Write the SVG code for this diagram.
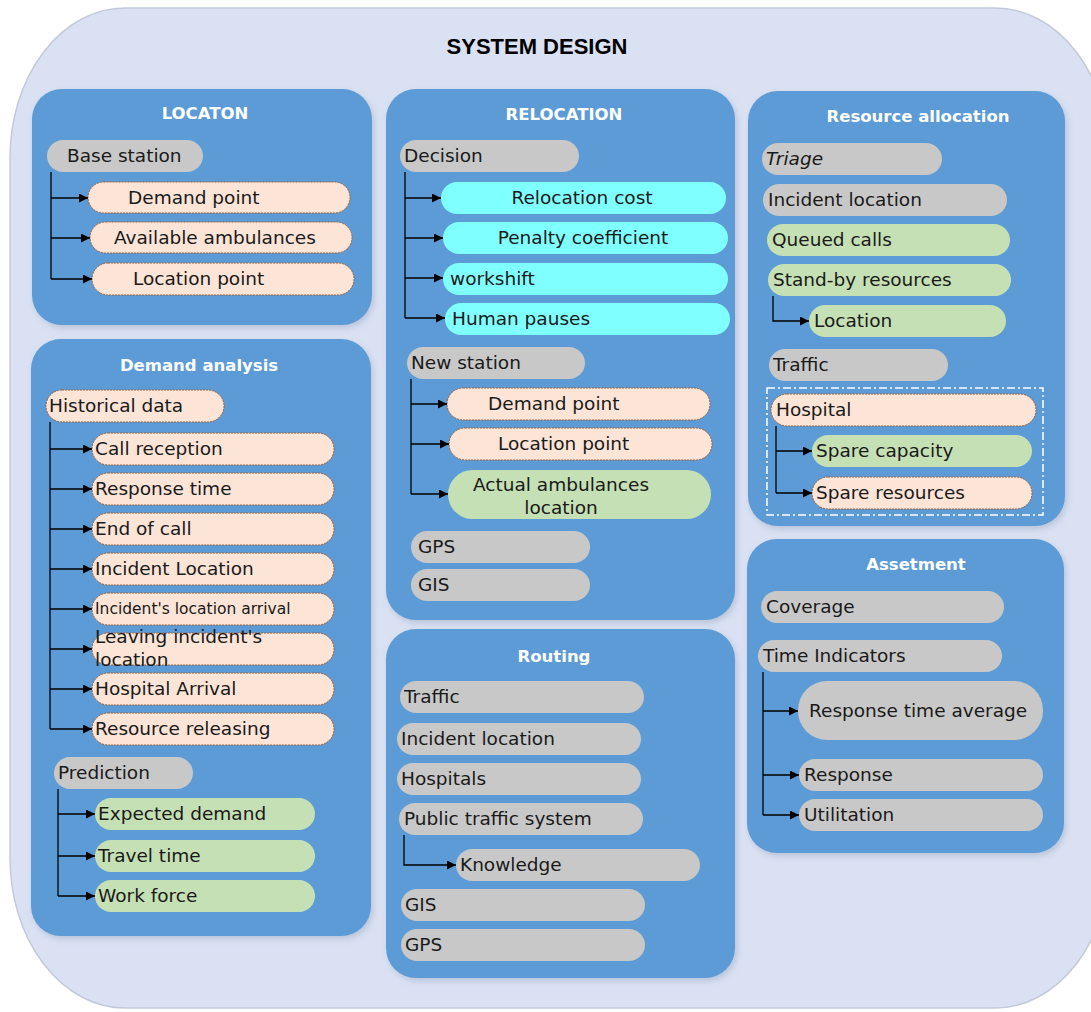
<svg xmlns="http://www.w3.org/2000/svg" width="1091" height="1012" viewBox="0 0 1091 1012">
<defs>
<filter id="sh" x="-10%" y="-10%" width="120%" height="120%"><feDropShadow dx="2" dy="3" stdDeviation="3" flood-color="#7a8aa8" flood-opacity="0.35"/></filter>
<marker id="ar" viewBox="0 0 10 10" refX="10" refY="5" markerWidth="9" markerHeight="9" markerUnits="userSpaceOnUse" orient="auto"><path d="M0,0 L10,5 L0,10 z" fill="#000"/></marker>
</defs>
<style>
.panel{fill:#5b9bd5;filter:url(#sh)}
.ttl{font-family:"DejaVu Sans",sans-serif;font-weight:bold;font-size:16.5px;fill:#fff;text-anchor:middle}
.lb{font-family:"DejaVu Sans",sans-serif;font-size:18.5px;fill:#1a1a1a}
.sm{font-size:15.5px}
.gray{fill:#c8c8c8}
.peach{fill:#fce4d6;stroke:#a0603a;stroke-width:1;stroke-dasharray:2 1}
.green{fill:#c5e0b4}
.cyan{fill:#7fffff}
.ln{fill:none;stroke:#000;stroke-width:1.3}
.arr{fill:none;stroke:#000;stroke-width:1.3;marker-end:url(#ar)}
.mid{text-anchor:middle}
</style>
<rect x="0" y="0" width="1091" height="1012" fill="#fff"/>
<rect x="10" y="8" width="1100" height="1000" rx="115" ry="150" fill="#dae1f3" stroke="#c3cadb" stroke-width="1.5"/>
<text x="537" y="54" font-family="Liberation Sans, sans-serif" font-weight="bold" font-size="22" text-anchor="middle" fill="#000">SYSTEM DESIGN</text>

<g id="panel-location">
<rect class="panel" x="32" y="89" width="340" height="236" rx="30"/>
<text class="ttl" x="205" y="119">LOCATON</text>
</g>
<g id="panel-demand">
<rect class="panel" x="31" y="339" width="340" height="597" rx="30"/>
<text class="ttl" x="199" y="371">Demand analysis</text>
</g>
<g id="panel-relocation">
<rect class="panel" x="386" y="89" width="349" height="531" rx="30"/>
<text class="ttl" x="564" y="120">RELOCATION</text>
</g>
<g id="panel-routing">
<rect class="panel" x="386" y="629" width="349" height="349" rx="30"/>
<text class="ttl" x="554" y="662">Routing</text>
</g>
<g id="panel-resource">
<rect class="panel" x="748" y="91" width="317" height="435" rx="30"/>
<text class="ttl" x="918" y="122">Resource allocation</text>
<rect x="767" y="388" width="276" height="127" fill="none" stroke="#fff" stroke-width="1.5" stroke-dasharray="8 3 2 3"/>
</g>
<g id="panel-assetment">
<rect class="panel" x="747" y="539" width="317" height="314" rx="30"/>
<text class="ttl" x="916" y="570">Assetment</text>
</g>

<!-- LOCATON nodes -->
<g id="n-base-station"><rect class="gray" x="47" y="140" width="156" height="32" rx="16"/><text class="lb" x="67" y="162">Base station</text></g>
<g id="n-loc-demand"><rect class="peach" x="88" y="182" width="262" height="31" rx="15.5"/><text class="lb" x="128" y="204">Demand point</text></g>
<g id="n-loc-avail"><rect class="peach" x="90" y="222" width="262" height="31" rx="15.5"/><text class="lb" x="114" y="244">Available ambulances</text></g>
<g id="n-loc-locpoint"><rect class="peach" x="92" y="263" width="262" height="32" rx="16"/><text class="lb" x="133" y="285">Location point</text></g>

<!-- Demand analysis nodes -->
<g id="n-historical"><rect class="peach" x="46" y="390" width="178" height="32" rx="16"/><text class="lb" x="49" y="412">Historical data</text></g>
<g id="n-call-reception"><rect class="peach" x="92" y="433" width="242" height="32" rx="16"/><text class="lb" x="95" y="455">Call reception</text></g>
<g id="n-response-time"><rect class="peach" x="92" y="473" width="242" height="32" rx="16"/><text class="lb" x="95" y="495">Response time</text></g>
<g id="n-end-call"><rect class="peach" x="92" y="513" width="242" height="32" rx="16"/><text class="lb" x="95" y="535">End of call</text></g>
<g id="n-incident-loc"><rect class="peach" x="92" y="553" width="242" height="32" rx="16"/><text class="lb" x="95" y="575">Incident Location</text></g>
<g id="n-incident-arrival"><rect class="peach" x="92" y="593" width="242" height="32" rx="16"/><text class="lb sm" x="95" y="614">Incident's location arrival</text></g>
<g id="n-leaving"><rect class="peach" x="92" y="633" width="242" height="32" rx="16"/><text class="lb" x="95" y="643">Leaving incident's</text><text class="lb" x="95" y="666">location</text></g>
<g id="n-hospital-arrival"><rect class="peach" x="92" y="673" width="242" height="32" rx="16"/><text class="lb" x="95" y="695">Hospital Arrival</text></g>
<g id="n-resource-releasing"><rect class="peach" x="92" y="713" width="242" height="32" rx="16"/><text class="lb" x="95" y="735">Resource releasing</text></g>
<g id="n-prediction"><rect class="gray" x="54" y="757" width="139" height="32" rx="16"/><text class="lb" x="58" y="779">Prediction</text></g>
<g id="n-expected-demand"><rect class="green" x="95" y="798" width="220" height="32" rx="16"/><text class="lb" x="98" y="820">Expected demand</text></g>
<g id="n-travel-time"><rect class="green" x="95" y="840" width="220" height="32" rx="16"/><text class="lb" x="98" y="862">Travel time</text></g>
<g id="n-work-force"><rect class="green" x="95" y="880" width="220" height="32" rx="16"/><text class="lb" x="98" y="902">Work force</text></g>

<!-- RELOCATION nodes -->
<g id="n-decision"><rect class="gray" x="400" y="140" width="179" height="32" rx="16"/><text class="lb" x="404" y="162">Decision</text></g>
<g id="n-relocation-cost"><rect class="cyan" x="441" y="182" width="285" height="32" rx="16"/><text class="lb mid" x="582" y="204">Relocation cost</text></g>
<g id="n-penalty"><rect class="cyan" x="443" y="222" width="285" height="32" rx="16"/><text class="lb mid" x="583" y="244">Penalty coefficient</text></g>
<g id="n-workshift"><rect class="cyan" x="443" y="263" width="285" height="32" rx="16"/><text class="lb" x="450" y="285">workshift</text></g>
<g id="n-human-pauses"><rect class="cyan" x="445" y="303" width="285" height="32" rx="16"/><text class="lb" x="452" y="325">Human pauses</text></g>
<g id="n-new-station"><rect class="gray" x="407" y="347" width="178" height="32" rx="16"/><text class="lb" x="411" y="369">New station</text></g>
<g id="n-rel-demand"><rect class="peach" x="447" y="388" width="263" height="32" rx="16"/><text class="lb" x="488" y="410">Demand point</text></g>
<g id="n-rel-locpoint"><rect class="peach" x="449" y="428" width="263" height="32" rx="16"/><text class="lb" x="498" y="450">Location point</text></g>
<g id="n-actual-amb"><rect class="green" x="448" y="470" width="263" height="49" rx="24.5"/><text class="lb mid" x="561" y="491">Actual ambulances</text><text class="lb mid" x="561" y="514">location</text></g>
<g id="n-rel-gps"><rect class="gray" x="411" y="531" width="179" height="32" rx="16"/><text class="lb" x="418" y="553">GPS</text></g>
<g id="n-rel-gis"><rect class="gray" x="411" y="569" width="179" height="32" rx="16"/><text class="lb" x="418" y="591">GIS</text></g>

<!-- Routing nodes -->
<g id="n-rt-traffic"><rect class="gray" x="400" y="681" width="244" height="32" rx="16"/><text class="lb" x="404" y="703">Traffic</text></g>
<g id="n-rt-incident"><rect class="gray" x="397" y="723" width="244" height="32" rx="16"/><text class="lb" x="401" y="745">Incident location</text></g>
<g id="n-rt-hospitals"><rect class="gray" x="397" y="763" width="244" height="32" rx="16"/><text class="lb" x="401" y="785">Hospitals</text></g>
<g id="n-rt-public"><rect class="gray" x="399" y="803" width="244" height="32" rx="16"/><text class="lb" x="404" y="825">Public traffic system</text></g>
<g id="n-rt-knowledge"><rect class="gray" x="456" y="849" width="244" height="32" rx="16"/><text class="lb" x="460" y="871">Knowledge</text></g>
<g id="n-rt-gis"><rect class="gray" x="401" y="889" width="244" height="32" rx="16"/><text class="lb" x="405" y="911">GIS</text></g>
<g id="n-rt-gps"><rect class="gray" x="401" y="929" width="244" height="32" rx="16"/><text class="lb" x="405" y="951">GPS</text></g>

<!-- Resource allocation nodes -->
<g id="n-triage"><rect class="gray" x="762" y="143" width="180" height="32" rx="16"/><text class="lb" x="766" y="165" font-style="italic">Triage</text></g>
<g id="n-ra-incident"><rect class="gray" x="763" y="184" width="244" height="32" rx="16"/><text class="lb" x="768" y="206">Incident location</text></g>
<g id="n-queued"><rect class="green" x="767" y="224" width="243" height="32" rx="16"/><text class="lb" x="772" y="246">Queued calls</text></g>
<g id="n-standby"><rect class="green" x="768" y="264" width="243" height="32" rx="16"/><text class="lb" x="773" y="286">Stand-by resources</text></g>
<g id="n-ra-location"><rect class="green" x="809" y="305" width="197" height="32" rx="16"/><text class="lb" x="814" y="327">Location</text></g>
<g id="n-ra-traffic"><rect class="gray" x="769" y="349" width="179" height="32" rx="16"/><text class="lb" x="773" y="371">Traffic</text></g>
<g id="n-hospital"><rect class="peach" x="771" y="394" width="265" height="32" rx="16"/><text class="lb" x="776" y="416">Hospital</text></g>
<g id="n-spare-capacity"><rect class="green" x="812" y="435" width="220" height="32" rx="16"/><text class="lb" x="816" y="457">Spare capacity</text></g>
<g id="n-spare-resources"><rect class="peach" x="812" y="477" width="220" height="32" rx="16"/><text class="lb" x="816" y="499">Spare resources</text></g>

<!-- Assetment nodes -->
<g id="n-coverage"><rect class="gray" x="761" y="591" width="243" height="32" rx="16"/><text class="lb" x="766" y="613">Coverage</text></g>
<g id="n-time-ind"><rect class="gray" x="758" y="640" width="244" height="32" rx="16"/><text class="lb" x="763" y="662">Time Indicators</text></g>
<g id="n-rta"><rect class="gray" x="798" y="681" width="245" height="59" rx="29"/><text class="lb" x="809" y="717">Response time average</text></g>
<g id="n-response"><rect class="gray" x="799" y="759" width="244" height="32" rx="16"/><text class="lb" x="804" y="781">Response</text></g>
<g id="n-utilitation"><rect class="gray" x="799" y="799" width="244" height="32" rx="16"/><text class="lb" x="804" y="821">Utilitation</text></g>

<g id="connectors">
<path class="ln" d="M51,172 V279"/>
<path class="arr" d="M51,198 H88"/>
<path class="arr" d="M51,238 H90"/>
<path class="arr" d="M51,279 H92"/>

<path class="ln" d="M50,422 V729"/>
<path class="arr" d="M50,449 H92"/>
<path class="arr" d="M50,489 H92"/>
<path class="arr" d="M50,529 H92"/>
<path class="arr" d="M50,569 H92"/>
<path class="arr" d="M50,609 H92"/>
<path class="arr" d="M50,649 H92"/>
<path class="arr" d="M50,689 H92"/>
<path class="arr" d="M50,729 H92"/>

<path class="ln" d="M58,789 V896"/>
<path class="arr" d="M58,814 H95"/>
<path class="arr" d="M58,856 H95"/>
<path class="arr" d="M58,896 H95"/>

<path class="ln" d="M405,172 V318"/>
<path class="arr" d="M405,198 H441"/>
<path class="arr" d="M405,238 H443"/>
<path class="arr" d="M405,278 H443"/>
<path class="arr" d="M405,318 H445"/>

<path class="ln" d="M411,379 V494"/>
<path class="arr" d="M411,404 H447"/>
<path class="arr" d="M411,444 H449"/>
<path class="arr" d="M411,494 H448"/>

<path class="arr" d="M404,835 V865 H456"/>

<path class="arr" d="M773,296 V321 H809"/>

<path class="ln" d="M776,426 V493"/>
<path class="arr" d="M776,451 H812"/>
<path class="arr" d="M776,493 H812"/>

<path class="ln" d="M763,672 V815"/>
<path class="arr" d="M763,711 H798"/>
<path class="arr" d="M763,775 H799"/>
<path class="arr" d="M763,815 H799"/>
</g>
</svg>
